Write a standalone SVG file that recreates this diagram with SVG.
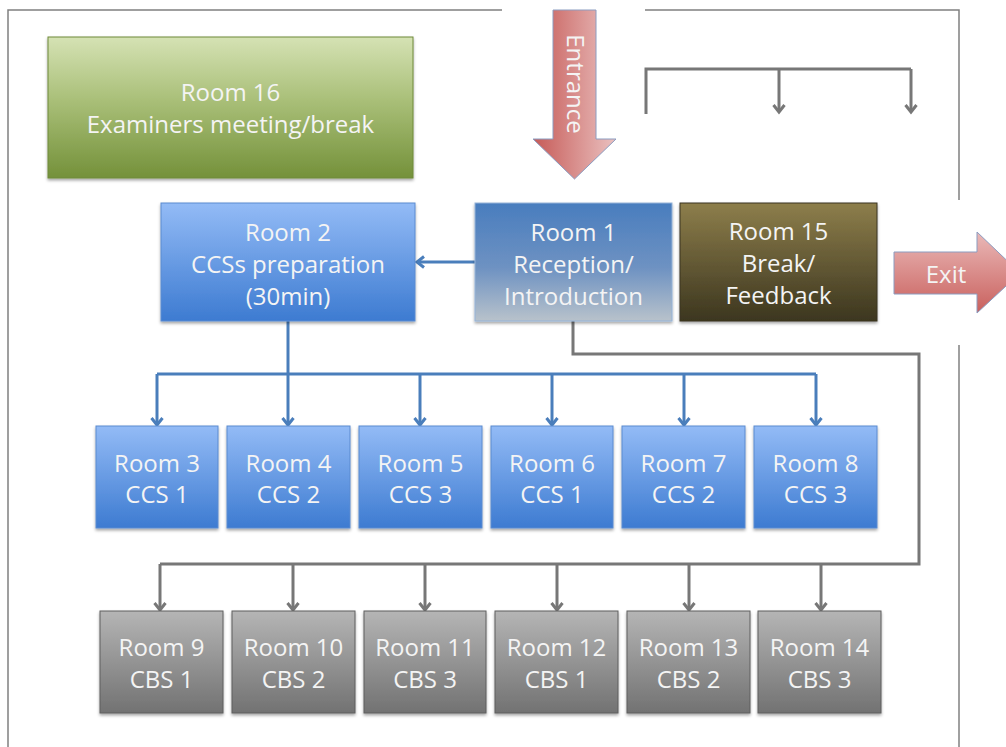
<svg xmlns="http://www.w3.org/2000/svg" width="1006" height="747" viewBox="0 0 1006 747">
<defs>
<linearGradient id="gBlue" x1="0" y1="0" x2="0" y2="1"><stop offset="0" stop-color="#93bbf6"/><stop offset="1" stop-color="#3d7bd1"/></linearGradient>
<linearGradient id="gGray" x1="0" y1="0" x2="0" y2="1"><stop offset="0" stop-color="#b5b5b5"/><stop offset="1" stop-color="#727272"/></linearGradient>
<linearGradient id="gGreen" x1="0" y1="0" x2="0" y2="1"><stop offset="0" stop-color="#d5e2b4"/><stop offset="0.45" stop-color="#a9bf78"/><stop offset="1" stop-color="#74913a"/></linearGradient>
<linearGradient id="gRoom1" x1="0" y1="0" x2="0" y2="1"><stop offset="0" stop-color="#497dbe"/><stop offset="0.55" stop-color="#6e92c2"/><stop offset="1" stop-color="#b8c2cb"/></linearGradient>
<linearGradient id="gOlive" x1="0" y1="0" x2="0" y2="1"><stop offset="0" stop-color="#8d7e4b"/><stop offset="1" stop-color="#3c361f"/></linearGradient>
<linearGradient id="gRedH" x1="0" y1="0" x2="1" y2="0"><stop offset="0" stop-color="#c65a57"/><stop offset="1" stop-color="#eac1c0"/></linearGradient>
<linearGradient id="gRedV" x1="0" y1="0" x2="0" y2="1"><stop offset="0" stop-color="#eab9b8"/><stop offset="1" stop-color="#c9605d"/></linearGradient>
<filter id="sh" x="-10%" y="-10%" width="120%" height="130%"><feDropShadow dx="0" dy="2" stdDeviation="1.5" flood-color="#000" flood-opacity="0.35"/></filter>
<marker id="aBlue" markerWidth="14" markerHeight="14" refX="11" refY="7" orient="auto" markerUnits="userSpaceOnUse" viewBox="0 0 14 14"><path d="M4,1.5 L11,7 L4,12.5" fill="none" stroke="#4a7ebb" stroke-width="3"/></marker>
<marker id="aGray" markerWidth="14" markerHeight="14" refX="11" refY="7" orient="auto" markerUnits="userSpaceOnUse" viewBox="0 0 14 14"><path d="M4,1.5 L11,7 L4,12.5" fill="none" stroke="#777" stroke-width="3"/></marker>
<style>
.t{font-family:"Open Sans","Liberation Sans",sans-serif;font-size:24px;fill:#f4f4f4;text-anchor:middle}
.frame{fill:none;stroke:#808080;stroke-width:1.5}
.cb{fill:none;stroke:#4a7ebb;stroke-width:3}
.cg{fill:none;stroke:#777;stroke-width:3}
.blue{fill:url(#gBlue);stroke:#5b8bd0;stroke-width:1;filter:url(#sh)}
.gray{fill:url(#gGray);stroke:#5f5f5f;stroke-width:1;filter:url(#sh)}
</style>
</defs>
<rect width="1006" height="747" fill="#fff"/>
<g id="frame">
<path class="frame" d="M502,10 H8 V747"/>
<path class="frame" d="M645,10 H959 V200"/>
<path class="frame" d="M959,345 V747"/>
</g>
<g id="connectors">
<path class="cg" d="M646,114 V69 H911"/>
<path class="cg" d="M779,69 V112" marker-end="url(#aGray)"/>
<path class="cg" d="M911,69 V112" marker-end="url(#aGray)"/>
<path class="cb" d="M475,262 H417" marker-end="url(#aBlue)"/>
<path class="cb" d="M288,321 V374"/>
<path class="cb" d="M157,374 H816"/>
<path class="cb" d="M157,374 V425" marker-end="url(#aBlue)"/>
<path class="cb" d="M288,374 V425" marker-end="url(#aBlue)"/>
<path class="cb" d="M420,374 V425" marker-end="url(#aBlue)"/>
<path class="cb" d="M552,374 V425" marker-end="url(#aBlue)"/>
<path class="cb" d="M684,374 V425" marker-end="url(#aBlue)"/>
<path class="cb" d="M816,374 V425" marker-end="url(#aBlue)"/>
<path class="cg" d="M573,321 V354 H919 V564 H160"/>
<path class="cg" d="M160,564 V610" marker-end="url(#aGray)"/>
<path class="cg" d="M293,564 V610" marker-end="url(#aGray)"/>
<path class="cg" d="M425,564 V610" marker-end="url(#aGray)"/>
<path class="cg" d="M557,564 V610" marker-end="url(#aGray)"/>
<path class="cg" d="M689,564 V610" marker-end="url(#aGray)"/>
<path class="cg" d="M821,564 V610" marker-end="url(#aGray)"/>
</g>
<g id="entrance">
<path d="M553,10 H596 V139 H616 L574.5,179 L533,139 H553 Z" fill="url(#gRedH)" stroke="#8b9cc0" stroke-width="1"/>
<text class="t" transform="translate(574.5,84) rotate(90)" y="8">Entrance</text>
</g>
<g id="exit">
<path d="M894,252 H977 V232 L1020,273 L977,313 V294 H894 Z" fill="url(#gRedV)" stroke="#8b9cc0" stroke-width="1"/>
<text class="t" x="946" y="283">Exit</text>
</g>
<g id="room16">
<rect x="48" y="37" width="365" height="141" fill="url(#gGreen)" stroke="#6f8a3a" stroke-width="1" filter="url(#sh)"/>
<text class="t" x="230.5" y="101">Room 16</text>
<text class="t" x="230.5" y="133">Examiners meeting/break</text>
</g>
<g id="room2">
<rect class="blue" x="161" y="203" width="254" height="118"/>
<text class="t" x="288" y="241">Room 2</text>
<text class="t" x="288" y="273">CCSs preparation</text>
<text class="t" x="288" y="305">(30min)</text>
</g>
<g id="room1">
<rect x="475" y="203" width="197" height="118" fill="url(#gRoom1)" stroke="#95b3d7" stroke-width="1" filter="url(#sh)"/>
<text class="t" x="573.5" y="241">Room 1</text>
<text class="t" x="573.5" y="273">Reception/</text>
<text class="t" x="573.5" y="305">Introduction</text>
</g>
<g id="room15">
<rect x="680" y="203" width="197" height="118" fill="url(#gOlive)" stroke="#3a3520" stroke-width="1" filter="url(#sh)"/>
<text class="t" x="778.5" y="240">Room 15</text>
<text class="t" x="778.5" y="272">Break/</text>
<text class="t" x="778.5" y="304">Feedback</text>
</g>
<g id="room3"><rect class="blue" x="96" y="426" width="122" height="102"/><text class="t" x="157" y="472">Room 3</text><text class="t" x="157" y="503">CCS 1</text></g>
<g id="room4"><rect class="blue" x="227" y="426" width="123" height="102"/><text class="t" x="288.5" y="472">Room 4</text><text class="t" x="288.5" y="503">CCS 2</text></g>
<g id="room5"><rect class="blue" x="359" y="426" width="123" height="102"/><text class="t" x="420.5" y="472">Room 5</text><text class="t" x="420.5" y="503">CCS 3</text></g>
<g id="room6"><rect class="blue" x="491" y="426" width="122" height="102"/><text class="t" x="552" y="472">Room 6</text><text class="t" x="552" y="503">CCS 1</text></g>
<g id="room7"><rect class="blue" x="622" y="426" width="123" height="102"/><text class="t" x="683.5" y="472">Room 7</text><text class="t" x="683.5" y="503">CCS 2</text></g>
<g id="room8"><rect class="blue" x="754" y="426" width="123" height="102"/><text class="t" x="815.5" y="472">Room 8</text><text class="t" x="815.5" y="503">CCS 3</text></g>
<g id="room9"><rect class="gray" x="100" y="611" width="123" height="102"/><text class="t" x="161.5" y="656">Room 9</text><text class="t" x="161.5" y="688">CBS 1</text></g>
<g id="room10"><rect class="gray" x="232" y="611" width="123" height="102"/><text class="t" x="293.5" y="656">Room 10</text><text class="t" x="293.5" y="688">CBS 2</text></g>
<g id="room11"><rect class="gray" x="364" y="611" width="122" height="102"/><text class="t" x="425" y="656">Room 11</text><text class="t" x="425" y="688">CBS 3</text></g>
<g id="room12"><rect class="gray" x="495" y="611" width="123" height="102"/><text class="t" x="556.5" y="656">Room 12</text><text class="t" x="556.5" y="688">CBS 1</text></g>
<g id="room13"><rect class="gray" x="627" y="611" width="123" height="102"/><text class="t" x="688.5" y="656">Room 13</text><text class="t" x="688.5" y="688">CBS 2</text></g>
<g id="room14"><rect class="gray" x="758" y="611" width="123" height="102"/><text class="t" x="819.5" y="656">Room 14</text><text class="t" x="819.5" y="688">CBS 3</text></g>
</svg>
